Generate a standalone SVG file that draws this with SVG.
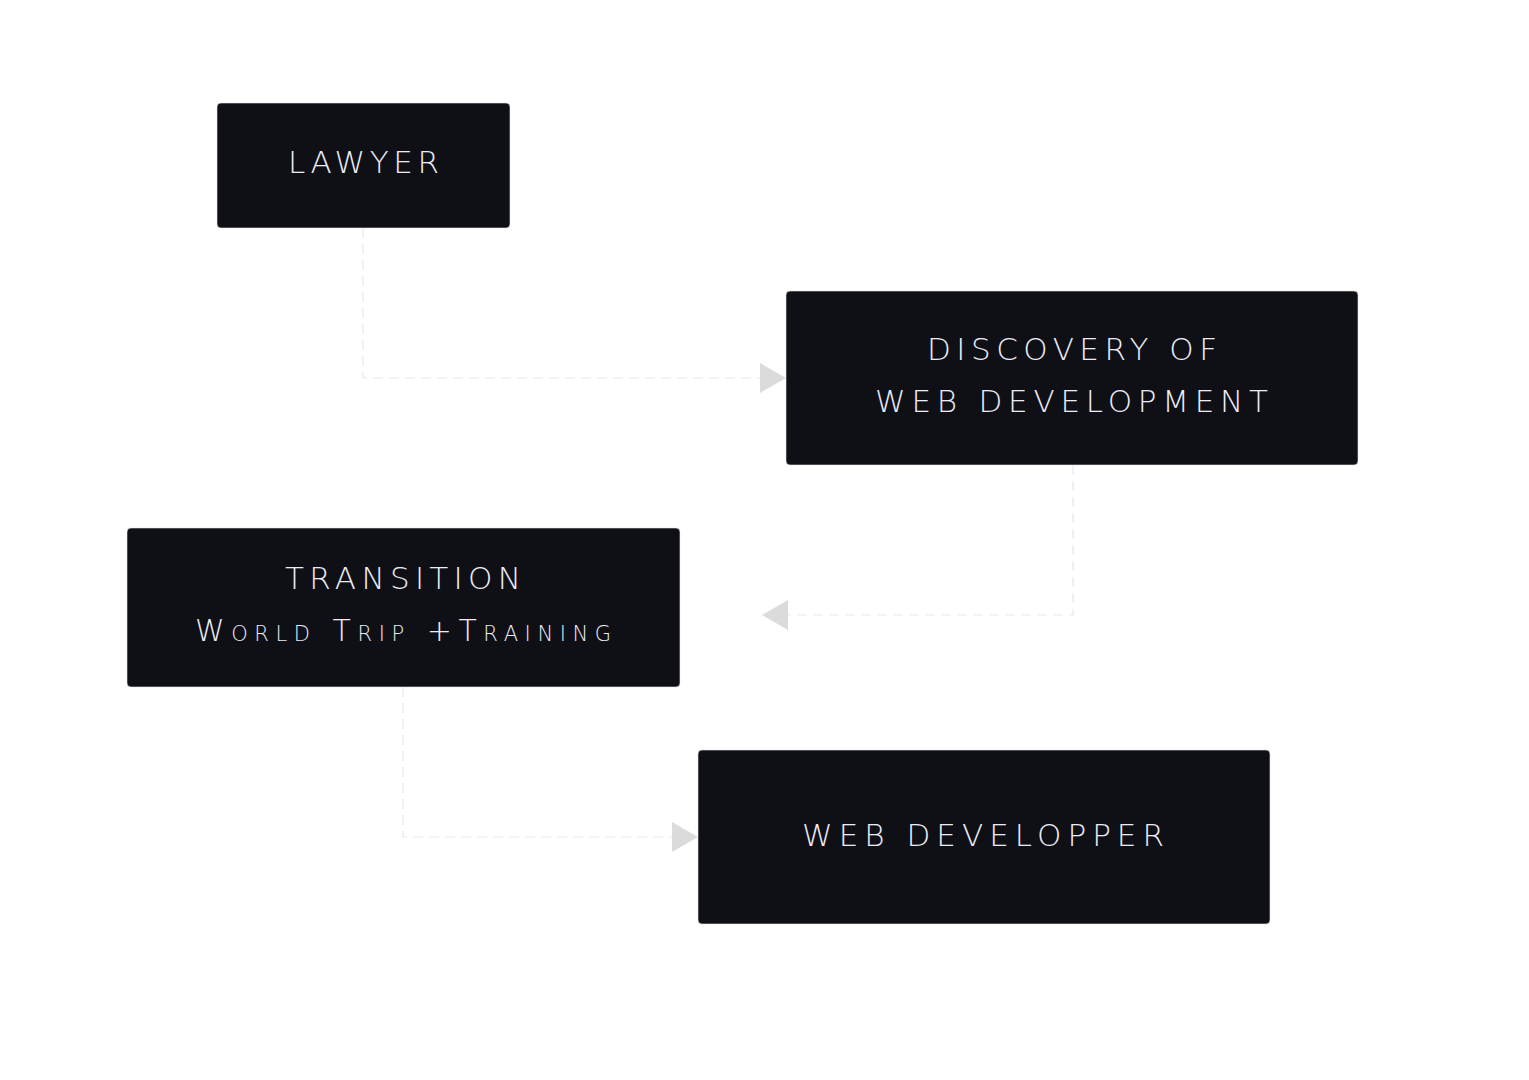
<svg xmlns="http://www.w3.org/2000/svg" width="1529" height="1080" viewBox="0 0 1529 1080">
<style>
.box{fill:#0f1015;stroke:#e8e8f4;stroke-width:0.6}
.lbl{fill:#ecebf6;font-family:"DejaVu Sans",Lato,"Liberation Sans",sans-serif;font-weight:200;font-size:31px}
.sc{font-variant:small-caps;font-size:30px}
.edge{fill:none;stroke:#e6e6f2;stroke-width:1.2;stroke-dasharray:10 6}
.head{fill:#dbdbdb}
</style>
<rect width="1529" height="1080" fill="#ffffff"/>
<g id="connectors">
<path class="edge" d="M363,228 V378 H760"/>
<polygon class="head" points="760,363 786,378 760,393"/>
<path class="edge" d="M1073,465 V615 H788"/>
<polygon class="head" points="788,600 762,615 788,630"/>
<path class="edge" d="M403,687 V837 H672"/>
<polygon class="head" points="672,822 698,837 672,852"/>
</g>
<g id="lawyer">
<rect class="box" x="217" y="103" width="293" height="125" rx="4"/>
<text class="lbl" x="288" y="173" textLength="151" lengthAdjust="spacing">LAWYER</text>
</g>
<g id="discovery">
<rect class="box" x="786" y="291" width="572" height="174" rx="4"/>
<text class="lbl" x="927" y="360" textLength="290" lengthAdjust="spacing">DISCOVERY OF</text>
<text class="lbl" x="875" y="412" textLength="393" lengthAdjust="spacing">WEB DEVELOPMENT</text>
</g>
<g id="transition">
<rect class="box" x="127" y="528" width="553" height="159" rx="4"/>
<text class="lbl" x="285" y="589" textLength="236" lengthAdjust="spacing">TRANSITION</text>
<text class="lbl sc" x="195" y="641" textLength="416" lengthAdjust="spacing">World Trip +Training</text>
</g>
<g id="webdev">
<rect class="box" x="698" y="750" width="572" height="174" rx="4"/>
<text class="lbl" x="802" y="846" textLength="362" lengthAdjust="spacing">WEB DEVELOPPER</text>
</g>
</svg>
